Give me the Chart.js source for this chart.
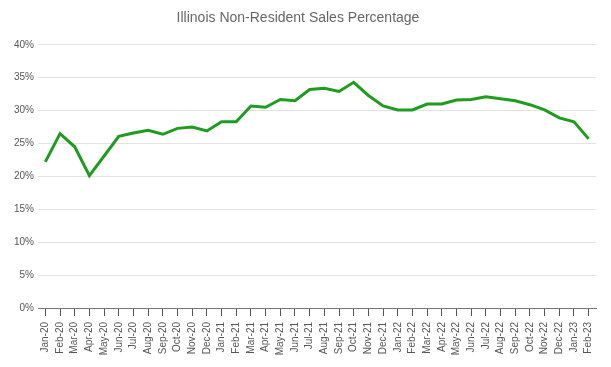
<!DOCTYPE html>
<html>
<head>
<meta charset="utf-8">
<script src="https://cdn.jsdelivr.net/npm/chart.js@4"></script>
<style>
  body { margin: 0; background: #fff; }
</style>
</head>
<body>
<canvas id="salesChart" width="611" height="367"></canvas>
<script>
// months and non-resident share (percent)
const months = [
  'Jan-20','Feb-20','Mar-20','Apr-20','May-20','Jun-20','Jul-20','Aug-20','Sep-20','Oct-20','Nov-20','Dec-20',
  'Jan-21','Feb-21','Mar-21','Apr-21','May-21','Jun-21','Jul-21','Aug-21','Sep-21','Oct-21','Nov-21','Dec-21',
  'Jan-22','Feb-22','Mar-22','Apr-22','May-22','Jun-22','Jul-22','Aug-22','Sep-22','Oct-22','Nov-22','Dec-22',
  'Jan-23','Feb-23'
];
const nonResidentPct = [
  22.2, 26.5, 24.5, 20.1, 23.1, 26.1, 26.6, 27.0, 26.4, 27.3, 27.5, 26.9,
  28.3, 28.3, 30.7, 30.5, 31.7, 31.5, 33.2, 33.4, 32.9, 34.3, 32.3, 30.7,
  30.1, 30.1, 31.0, 31.0, 31.6, 31.7, 32.1, 31.8, 31.5, 30.9, 30.1, 28.9,
  28.3, 25.7
];
const yTicks = [0, 5, 10, 15, 20, 25, 30, 35, 40];

Chart.defaults.font.family = '"Liberation Sans", Arial, sans-serif';

const ctx = document.getElementById('salesChart').getContext('2d');
new Chart(ctx, {
  type: 'line',
  data: {
    labels: months,
    datasets: [{
      label: 'Non-Resident %',
      data: nonResidentPct,
      borderColor: '#1f9c1f',
      borderWidth: 3,
      pointRadius: 0,
      tension: 0,
      fill: false
    }]
  },
  options: {
    responsive: false,
    animation: false,
    layout: { padding: { left: 0, right: 15, top: 0, bottom: 0 } },
    plugins: {
      legend: { display: false },
      tooltip: { enabled: false },
      title: {
        display: true,
        text: 'Illinois Non-Resident Sales Percentage',
        color: '#666',
        font: { size: 14, weight: 'normal' },
        padding: { top: 10, bottom: 18 }
      }
    },
    scales: {
      x: {
        offset: true,
        grid: { display: true, drawOnChartArea: false, drawTicks: true, tickLength: 8, color: '#555', offset: false },
        border: { color: '#777' },
        ticks: { minRotation: 90, maxRotation: 90, autoSkip: false, color: '#555', font: { size: 10 }, padding: 6 },
        afterFit: s => { s.height = 59; }
      },
      y: {
        min: 0,
        max: 40,
        afterBuildTicks: s => { s.ticks = yTicks.map(v => ({ value: v })); },
        grid: { color: '#e2e2e2', lineWidth: 1, drawTicks: false },
        border: { display: false },
        ticks: { callback: v => v + '%', color: '#555', font: { size: 10 }, padding: 4 },
        afterFit: s => { s.width = 38; }
      }
    }
  }
});
</script>
</body>
</html>
